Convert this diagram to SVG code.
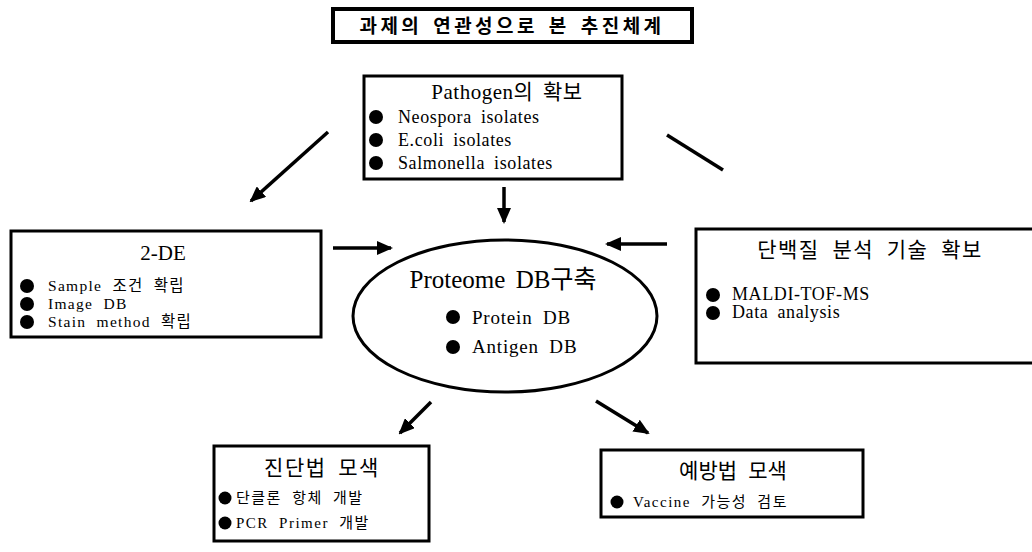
<svg xmlns="http://www.w3.org/2000/svg" width="1032" height="552" viewBox="0 0 1032 552">
<defs>
<marker id="ah" markerWidth="16" markerHeight="14" refX="14" refY="7" orient="auto" markerUnits="userSpaceOnUse" viewBox="0 0 16 14">
<path d="M0,0 L16,7 L0,14 z" fill="#000"/>
</marker>
<style>
.box{fill:#fff;stroke:#000;stroke-width:3}
.t{font-family:"Liberation Serif","Noto Sans CJK KR",serif;fill:#000}
.title{font-size:21px;text-anchor:middle}
.item{font-size:18px;letter-spacing:0.6px;word-spacing:4px}
.item2{font-size:15.5px;letter-spacing:1.3px;word-spacing:5px}
.small{font-size:15px;letter-spacing:1.5px;word-spacing:5px}
.line{stroke:#000;stroke-width:3.5;fill:none}
</style>
</defs>
<rect x="0" y="0" width="1032" height="552" fill="#fff"/>

<g id="header">
<rect x="333" y="9" width="359" height="33" fill="#fff" stroke="#000" stroke-width="4"/>
<text x="512" y="33" font-family="'Noto Sans CJK KR',sans-serif" font-weight="bold" font-size="19" text-anchor="middle" letter-spacing="3.5" word-spacing="3">과제의 연관성으로 본 추진체계</text>
</g>

<g id="connectors">
<line class="line" x1="328" y1="132" x2="251" y2="201" marker-end="url(#ah)"/>
<line class="line" x1="504" y1="187" x2="504" y2="222" marker-end="url(#ah)"/>
<line class="line" x1="333" y1="248" x2="391" y2="248" marker-end="url(#ah)"/>
<line class="line" x1="667" y1="244" x2="607" y2="244" marker-end="url(#ah)"/>
<line class="line" x1="667" y1="135" x2="723" y2="170"/>
<line class="line" x1="431" y1="402" x2="400" y2="433" marker-end="url(#ah)"/>
<line class="line" x1="596" y1="401" x2="648" y2="433" marker-end="url(#ah)"/>
</g>

<g id="pathogen">
<rect class="box" x="364" y="76" width="258" height="103"/>
<text class="t title" x="507" y="99" letter-spacing="0.5" word-spacing="4">Pathogen의 확보</text>
<circle cx="376" cy="117" r="7"/>
<circle cx="376" cy="140" r="7"/>
<circle cx="376" cy="163" r="7"/>
<text class="t item" x="398" y="123">Neospora isolates</text>
<text class="t item" x="398" y="146">E.coli isolates</text>
<text class="t item" x="398" y="169">Salmonella isolates</text>
</g>

<g id="twode">
<rect class="box" x="11" y="231" width="310" height="106"/>
<text class="t title" x="163" y="260">2-DE</text>
<circle cx="27" cy="286" r="7"/>
<circle cx="27" cy="304" r="7"/>
<circle cx="27" cy="322" r="7"/>
<text class="t item2" x="48" y="291">Sample 조건 확립</text>
<text class="t item2" x="48" y="309">Image DB</text>
<text class="t item2" x="48" y="327">Stain method 확립</text>
</g>

<g id="protein-analysis">
<rect class="box" x="696" y="229" width="338" height="134"/>
<text class="t title" x="870" y="257" font-size="22" letter-spacing="1.5" word-spacing="6">단백질 분석 기술 확보</text>
<circle cx="713" cy="295" r="7"/>
<circle cx="713" cy="313" r="7"/>
<text class="t item" x="732" y="300" font-size="19" letter-spacing="1.5">MALDI-TOF-MS</text>
<text class="t item" x="732" y="318">Data analysis</text>
</g>

<g id="proteome">
<ellipse cx="505" cy="316" rx="152" ry="76" fill="#fff" stroke="#000" stroke-width="3"/>
<text class="t" x="503" y="288" font-size="25" text-anchor="middle" word-spacing="4">Proteome DB구축</text>
<circle cx="453" cy="317" r="7"/>
<circle cx="453" cy="347" r="7"/>
<text class="t" x="472" y="324" font-size="19" letter-spacing="0.8" word-spacing="5">Protein DB</text>
<text class="t" x="472" y="353" font-size="19" letter-spacing="0.8" word-spacing="5">Antigen DB</text>
</g>

<g id="diagnosis">
<rect class="box" x="214" y="446" width="215" height="95"/>
<text class="t title" x="322" y="475" letter-spacing="1.5" word-spacing="5">진단법 모색</text>
<circle cx="225" cy="498" r="6.5"/>
<circle cx="225" cy="523" r="6.5"/>
<text class="t small" x="236" y="503" word-spacing="8">단클론 항체 개발</text>
<text class="t small" x="236" y="528">PCR Primer 개발</text>
</g>

<g id="prevention">
<rect class="box" x="601" y="450" width="262" height="67"/>
<text class="t title" x="733" y="478" word-spacing="6">예방법 모색</text>
<circle cx="617" cy="502" r="6.5"/>
<text class="t small" x="633" y="507">Vaccine 가능성 검토</text>
</g>
</svg>
